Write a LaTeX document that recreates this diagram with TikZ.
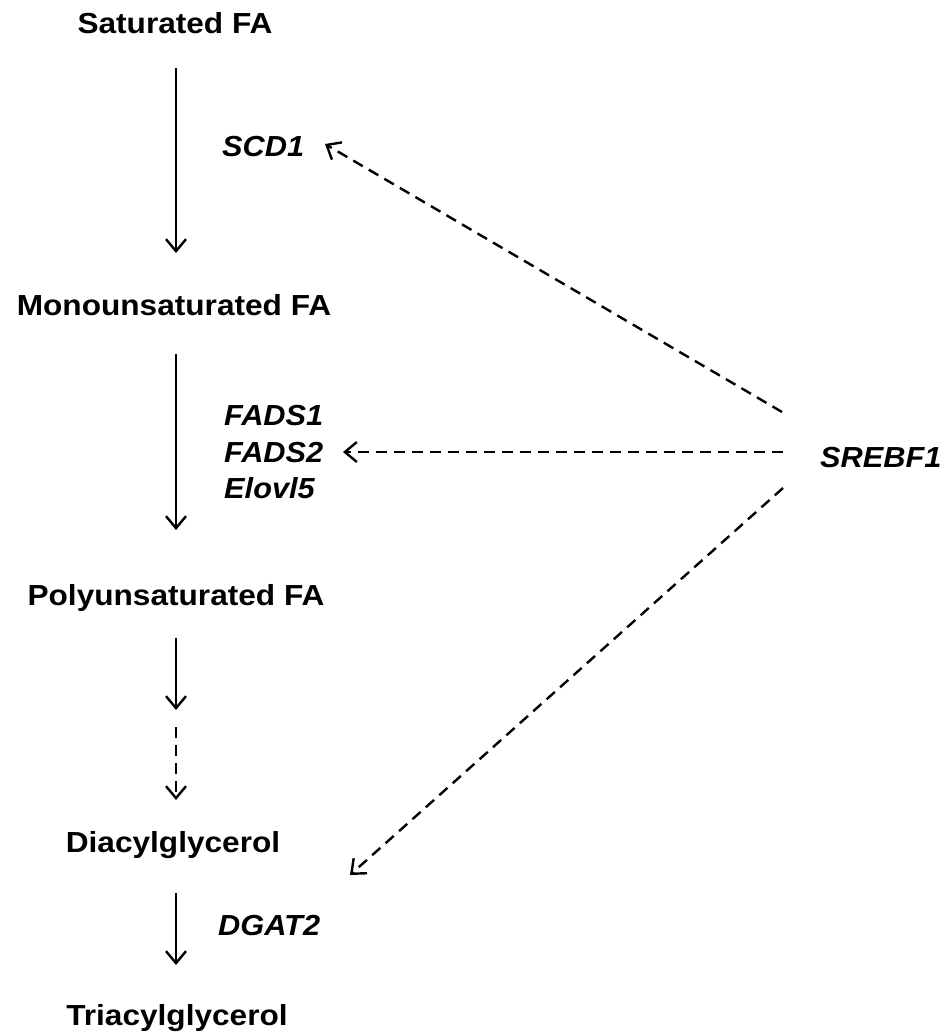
\documentclass[tikz,border=0pt]{standalone}
\usepackage{fontspec}
\setmainfont{Liberation Sans}
\usetikzlibrary{arrows.meta}
\newcommand\wx[1]{\scalebox{1.09}[1]{#1}}
\newcommand\wg[1]{\scalebox{1.06}[1]{#1}}
\begin{document}
\begin{tikzpicture}[x=1pt,y=-1pt,
  met/.style={font=\fontsize{29}{34}\selectfont\bfseries, inner sep=0pt, anchor=base},
  gene/.style={font=\fontsize{29}{34}\selectfont\bfseries\itshape, inner sep=0pt, anchor=base west},
  flow/.style={line width=2.4pt, -{Straight Barb[length=12pt,width=20pt]}},
  reg/.style={flow, dash pattern=on 11pt off 7pt}]
\useasboundingbox (0,0) rectangle (948,1034);
% metabolites
\node[met] (sat)  at (175,33)   {\wx{Saturated FA}};
\node[met] (mono) at (174,315)  {\wx{Monounsaturated FA}};
\node[met] (poly) at (176,605)  {\wx{Polyunsaturated FA}};
\node[met] (dag)  at (173,852)  {\wx{Diacylglycerol}};
\node[met] (tag)  at (177,1025) {\wx{Triacylglycerol}};
% genes
\node[gene] (scd)   at (222,156) {\wg{SCD1}};
\node[gene] (fads1) at (224,425) {\wg{FADS1}};
\node[gene] (fads2) at (224,462) {\wg{FADS2}};
\node[gene] (elovl) at (224,498) {\wg{Elovl5}};
\node[gene] (dgat)  at (218,935) {\wg{DGAT2}};
\node[gene] (srebf) at (820,467) {\wg{SREBF1}};
% connector ends
\coordinate (a1s) at (176,68);  \coordinate (a1e) at (176,253);
\coordinate (a2s) at (176,354); \coordinate (a2e) at (176,530);
\coordinate (a3s) at (176,638); \coordinate (a3e) at (176,710);
\coordinate (a4s) at (176,727); \coordinate (a4e) at (176,800);
\coordinate (a5s) at (176,893); \coordinate (a5e) at (176,965);
\coordinate (r1s) at (782,412); \coordinate (r1e) at (325,144);
\coordinate (r2s) at (783,452); \coordinate (r2e) at (343,452);
\coordinate (r3s) at (783,488); \coordinate (r3e) at (350,875);
% pathway arrows
\draw[flow] (a1s) -- (a1e);
\draw[flow] (a2s) -- (a2e);
\draw[flow] (a3s) -- (a3e);
\draw[reg]  (a4s) -- (a4e);
\draw[flow] (a5s) -- (a5e);
% regulation arrows
\draw[reg] (r1s) -- (r1e);
\draw[reg] (r2s) -- (r2e);
\draw[reg] (r3s) -- (r3e);
\end{tikzpicture}
\end{document}
